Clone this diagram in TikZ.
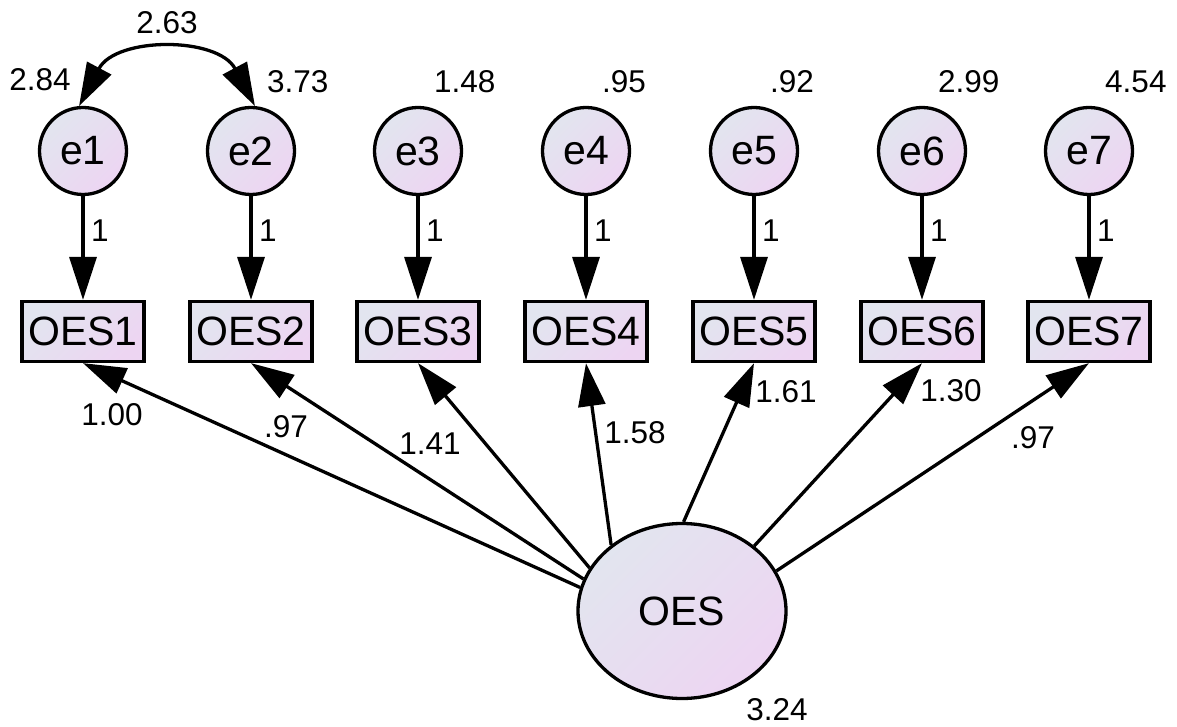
\documentclass[tikz,border=0pt]{standalone}
\usepackage{fontspec}
\setmainfont{Liberation Sans}
\usetikzlibrary{arrows.meta,shapes.geometric}
\definecolor{fillA}{RGB}{226,229,239}
\definecolor{fillB}{RGB}{237,213,242}
\begin{document}
\begin{tikzpicture}[x=1pt,y=1pt,
  shaded/.style={top color=fillA,bottom color=fillB,shading angle=45},
  errvar/.style={circle,draw,line width=3.3pt,shaded,minimum size=87pt,inner sep=0pt,font=\fontsize{41}{41}\selectfont},
  obsvar/.style={rectangle,draw,line width=3.3pt,shaded,minimum width=122pt,minimum height=60pt,inner sep=0pt,font=\fontsize{41}{41}\selectfont},
  latvar/.style={ellipse,draw,line width=3.3pt,shaded,minimum width=208pt,minimum height=175pt,inner sep=0pt,font=\fontsize{41}{41}\selectfont},
  estim/.style={inner sep=0pt,font=\fontsize{31.5}{31.5}\selectfont},
  tipshape/.tip={Triangle[length=43pt,width=27pt]},
  regr/.style={line width=3.3pt,-tipshape},
  covar/.style={line width=3.3pt,tipshape-tipshape},
  ]
\useasboundingbox (0,0) rectangle (1177,726);

% latent factor
\node[latvar] (OES) at (682,115) {OES};
\node[estim] (vOES) at (777,16) {3.24};

% indicators, their error terms and fixed loadings
\foreach \i/\x in {1/83,2/251,3/418,4/586,5/754,6/922,7/1089}{
  \node[errvar] (e\i) at (\x,575) {e\i};
  \node[obsvar] (OES\i) at (\x,394.5) {OES\i};
  \draw[regr] (e\i) -- (OES\i);
  \node[estim,anchor=west] (one\i) at (\x+8,495) {1};
}
% error variances
\node[estim] (v1) at (40,646) {2.84};
\foreach \i/\x/\vv in {2/251/3.73,3/418/1.48,4/586/.95,5/754/.92,6/922/2.99,7/1089/4.54}{
  \node[estim,anchor=west] (v\i) at (\x+16,644) {\vv};
}

% covariance between e1 and e2
\draw[covar] (e1.95) to[out=62,in=118,looseness=1.15] (e2.85);
\node[estim] (c12) at (167,703) {2.63};

% factor loadings
\draw[regr] (OES.167.5) -- (OES1.south);
\draw[regr] (OES.162.6) -- (OES2.south);
\draw[regr] (OES.155.4) -- (OES3.south);
\draw[regr] (OES.137.4) -- (OES4.south);
\draw[regr] (OES.89.4) -- (OES5.south);
\draw[regr] (OES.42.2) -- (OES6.south);
\draw[regr] (OES.23.7) -- (OES7.south);

\node[estim] (l1) at (112,311) {1.00};
\node[estim] (l2) at (286,299) {.97};
\node[estim] (l3) at (430,282) {1.41};
\node[estim] (l4) at (635,293) {1.58};
\node[estim] (l5) at (786,334) {1.61};
\node[estim] (l6) at (951,335) {1.30};
\node[estim] (l7) at (1033,288) {.97};
\end{tikzpicture}
\end{document}
